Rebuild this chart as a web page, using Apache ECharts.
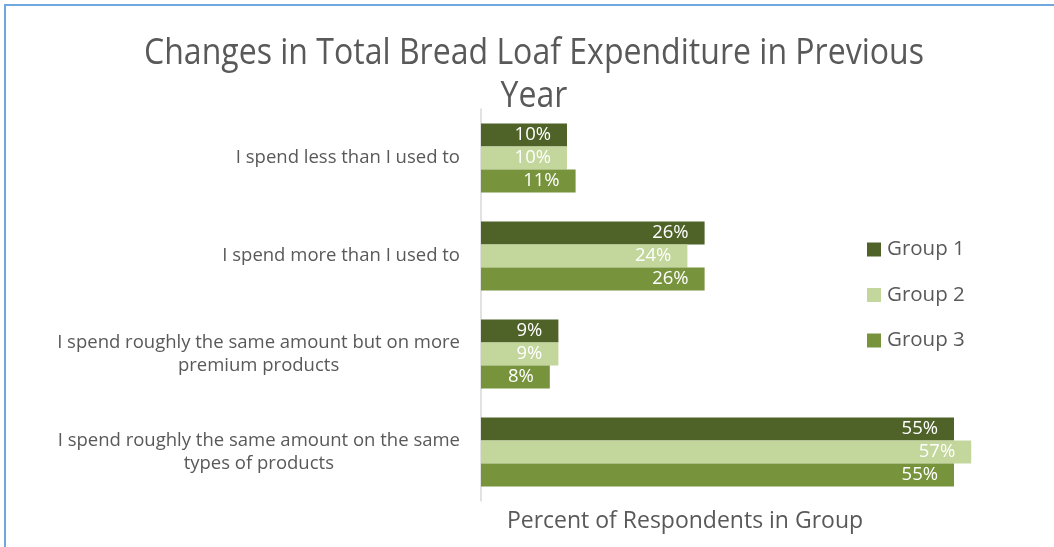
<!DOCTYPE html>
<html>
<head>
<meta charset="utf-8">
<script src="https://cdn.jsdelivr.net/npm/echarts@6/dist/echarts.min.js"></script>
<style>
  html, body { margin: 0; padding: 0; background: #fff; }
  #chart { width: 1054px; height: 547px; }
</style>
</head>
<body>
<div id="chart"></div>
<script>
// Survey answers, listed top to bottom
const categories = [
  'I spend less than I used to',
  'I spend more than I used to',
  'I spend roughly the same amount but on more\npremium products',
  'I spend roughly the same amount on the same\ntypes of products'
];
const seriesNames = ['Group 1', 'Group 2', 'Group 3'];
// Percent of respondents in each group
const group1 = [10, 26, 9, 55];
const group2 = [10, 24, 9, 57];
const group3 = [11, 26, 8, 55];
const titleLines = ['Changes in Total Bread Loaf Expenditure in Previous', 'Year'];
const axisTitle = 'Percent of Respondents in Group';

const colors = ['#4f6228', '#c3d69b', '#77933c'];
const textColor = '#595959';
const font = '"Open Sans", sans-serif';

const chart = echarts.init(document.getElementById('chart'));

const values = [group1, group2, group3];
const series = seriesNames.map((name, i) => ({
  name,
  type: 'bar',
  data: values[i],
  barWidth: 23,
  barGap: '0%',
  itemStyle: { color: colors[i] },
  label: {
    show: true,
    position: 'insideRight',
    distance: 16,
    color: '#ffffff',
    fontFamily: font,
    fontSize: 18.5,
    formatter: p => p.value + '%'
  }
}));

chart.setOption({
  animation: false,
  backgroundColor: '#ffffff',
  grid: { left: 481, right: 57, top: 109, bottom: 46 },
  xAxis: {
    type: 'value',
    min: 0,
    max: 60,
    axisLine: { show: false },
    axisTick: { show: false },
    axisLabel: { show: false },
    splitLine: { show: false }
  },
  yAxis: {
    type: 'category',
    inverse: true,
    data: categories,
    axisLine: { show: true, lineStyle: { color: '#d9d9d9', width: 1.5 } },
    axisTick: { show: false },
    axisLabel: {
      margin: 21,
      color: textColor,
      fontFamily: font,
      fontSize: 18.5,
      lineHeight: 23,
      // each line centred within the label block, block right-aligned to the axis
      formatter: v => v.split('\n').map(s => '{c|' + s + '}').join('\n'),
      rich: {
        c: { align: 'center', color: textColor, fontFamily: font, fontSize: 18.5, lineHeight: 23 }
      }
    }
  },
  legend: {
    orient: 'vertical',
    left: 862,
    top: 234,
    itemWidth: 14,
    itemHeight: 14,
    itemGap: 24.5,
    icon: 'rect',
    data: seriesNames,
    textStyle: { color: textColor, fontFamily: font, fontSize: 20.5, padding: [0, 0, 0, 1] }
  },
  graphic: [
    {
      type: 'line',
      shape: { x1: 4, y1: 5, x2: 1054, y2: 5 },
      style: { stroke: '#6fa8dc', lineWidth: 2 },
      silent: true
    },
    {
      type: 'line',
      shape: { x1: 5, y1: 4, x2: 5, y2: 547 },
      style: { stroke: '#6fa8dc', lineWidth: 2 },
      silent: true
    },
    {
      type: 'text',
      x: 534, y: 54, scaleX: 0.89,
      style: { text: titleLines[0], font: '36px ' + font, fill: textColor, align: 'center', verticalAlign: 'middle' }
    },
    {
      type: 'text',
      x: 534, y: 97, scaleX: 0.89,
      style: { text: titleLines[1], font: '36px ' + font, fill: textColor, align: 'center', verticalAlign: 'middle' }
    },
    {
      type: 'text',
      x: 685, y: 521, scaleX: 0.958,
      style: { text: axisTitle, font: '24px ' + font, fill: textColor, align: 'center', verticalAlign: 'middle' }
    }
  ],
  series
});
</script>
</body>
</html>
